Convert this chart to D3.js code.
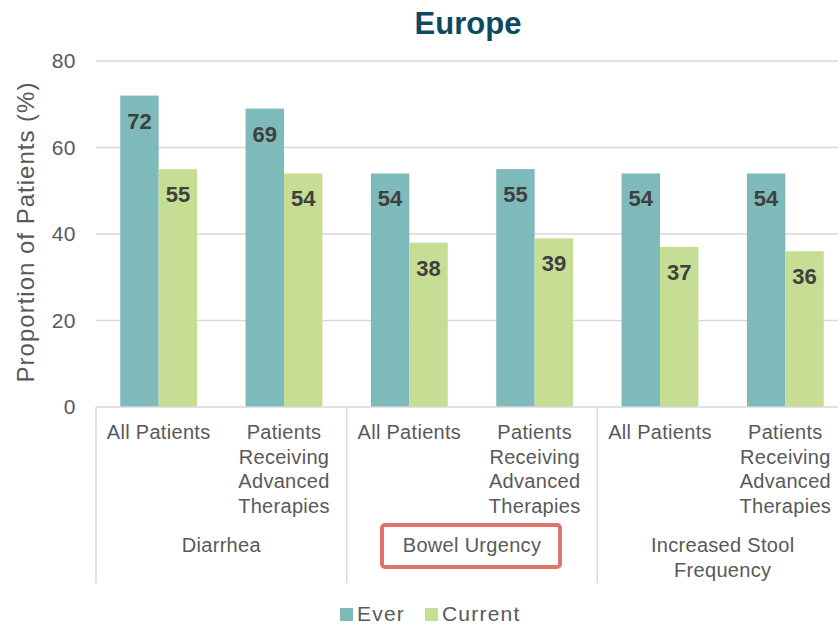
<!DOCTYPE html>
<html>
<head>
<meta charset="utf-8">
<script src="https://cdn.jsdelivr.net/npm/d3@7"></script>
<style>
  body { margin: 0; background: #fff; }
  text { font-family: "Liberation Sans", Arial, sans-serif; }
</style>
</head>
<body>
<div id="chart"></div>
<script>
const width = 838;
const height = 627;

// data
const groups = ["Diarrhea", "Bowel Urgency", "Increased Stool Frequency"];
const groupLines = [["Diarrhea"], ["Bowel Urgency"], ["Increased Stool", "Frequency"]];
const subgroupLines = [["All Patients"], ["Patients", "Receiving", "Advanced", "Therapies"]];
const series = ["Ever", "Current"];
const ever = [72, 69, 54, 55, 54, 54];
const current = [55, 54, 38, 39, 37, 36];
const yTicks = [0, 20, 40, 60, 80];
const highlighted = "Bowel Urgency";

const colours = { Ever: "#7fbaba", Current: "#c6de94" };
const grey = "#595959";

// one slot per (group, subgroup)
const slots = [];
groups.forEach((g, gi) => {
  subgroupLines.forEach((s, si) => {
    slots.push({ id: gi + "-" + si, group: g, gi: gi, lines: s });
  });
});
slots.forEach((s, i) => {
  s.Ever = ever[i];
  s.Current = current[i];
});

const margin = { top: 61, bottom: 407, left: 96, right: 848 };

const svg = d3
  .select("#chart")
  .append("svg")
  .attr("width", width)
  .attr("height", height);

const y = d3.scaleLinear().domain([0, 80]).range([margin.bottom, margin.top]);

const x0 = d3
  .scaleBand()
  .domain(slots.map((d) => d.id))
  .range([margin.left, margin.right]);

const x1 = d3
  .scaleBand()
  .domain(series)
  .range([0, x0.bandwidth()])
  .paddingOuter(0.63);

const xGroup = d3
  .scaleBand()
  .domain(groups)
  .range([margin.left, margin.right]);

// gridlines
svg
  .append("g")
  .selectAll("line")
  .data(yTicks.filter((t) => t > 0))
  .enter()
  .append("line")
  .attr("x1", margin.left)
  .attr("x2", margin.right)
  .attr("y1", (d) => y(d))
  .attr("y2", (d) => y(d))
  .attr("stroke", "#d9d9d9")
  .attr("stroke-width", 1.5);

// y tick labels
svg
  .append("g")
  .selectAll("text")
  .data(yTicks)
  .enter()
  .append("text")
  .attr("x", 76)
  .attr("y", (d) => y(d) + 7)
  .attr("text-anchor", "end")
  .attr("font-size", 21)
  .attr("letter-spacing", 0.5)
  .attr("fill", grey)
  .text((d) => d);

// y axis title
svg
  .append("text")
  .attr("transform", "translate(34," + 232 + ") rotate(-90)")
  .attr("text-anchor", "middle")
  .attr("font-size", 24)
  .attr("letter-spacing", 1)
  .attr("fill", grey)
  .text("Proportion of Patients (%)");

// bars
const slotG = svg
  .append("g")
  .selectAll("g")
  .data(slots)
  .enter()
  .append("g")
  .attr("transform", (d) => "translate(" + x0(d.id) + ",0)");

slotG
  .selectAll("rect")
  .data((d) => series.map((k) => ({ key: k, value: d[k] })))
  .enter()
  .append("rect")
  .attr("x", (d) => x1(d.key))
  .attr("y", (d) => y(d.value))
  .attr("width", x1.bandwidth())
  .attr("height", (d) => y(0) - y(d.value))
  .attr("fill", (d) => colours[d.key]);

slotG
  .selectAll("text")
  .data((d) => series.map((k) => ({ key: k, value: d[k] })))
  .enter()
  .append("text")
  .attr("x", (d) => x1(d.key) + x1.bandwidth() / 2)
  .attr("y", (d) => y(d.value) + 33)
  .attr("text-anchor", "middle")
  .attr("font-size", 22)
  .attr("font-weight", "bold")
  .attr("fill", "#404040")
  .text((d) => d.value);

// x axis baseline and group separators
svg
  .append("line")
  .attr("x1", margin.left)
  .attr("x2", margin.right)
  .attr("y1", y(0))
  .attr("y2", y(0))
  .attr("stroke", "#d9d9d9")
  .attr("stroke-width", 1.5);

svg
  .append("g")
  .selectAll("line")
  .data(groups)
  .enter()
  .append("line")
  .attr("x1", (d) => xGroup(d))
  .attr("x2", (d) => xGroup(d))
  .attr("y1", y(0))
  .attr("y2", 583)
  .attr("stroke", "#d9d9d9")
  .attr("stroke-width", 1.5);

// subgroup labels
slotG
  .append("text")
  .attr("text-anchor", "middle")
  .attr("font-size", 20)
  .attr("letter-spacing", 0.3)
  .attr("fill", grey)
  .each(function (d) {
    d3.select(this)
      .selectAll("tspan")
      .data(d.lines)
      .enter()
      .append("tspan")
      .attr("x", x0.bandwidth() / 2)
      .attr("y", (l, i) => 439 + i * 24.7)
      .text((l) => l);
  });

// group labels
svg
  .append("g")
  .selectAll("text")
  .data(groups)
  .enter()
  .append("text")
  .attr("text-anchor", "middle")
  .attr("font-size", 20)
  .attr("letter-spacing", 0.3)
  .attr("fill", grey)
  .each(function (d, gi) {
    d3.select(this)
      .selectAll("tspan")
      .data(groupLines[gi])
      .enter()
      .append("tspan")
      .attr("x", xGroup(d) + xGroup.bandwidth() / 2)
      .attr("y", (l, i) => 552 + i * 24.7)
      .text((l) => l);
  });

// highlight box
const hx = xGroup(highlighted) + xGroup.bandwidth() / 2;
svg
  .append("rect")
  .attr("x", hx - 90)
  .attr("y", 525)
  .attr("width", 178)
  .attr("height", 42)
  .attr("rx", 3)
  .attr("fill", "none")
  .attr("stroke", "#e0736a")
  .attr("stroke-width", 4);

// title
svg
  .append("text")
  .attr("x", 468)
  .attr("y", 34)
  .attr("text-anchor", "middle")
  .attr("font-size", 31)
  .attr("font-weight", "bold")
  .attr("fill", "#0e4a5f")
  .text("Europe");

// legend
const legendX = [340, 425];
const legend = svg
  .append("g")
  .selectAll("g")
  .data(series)
  .enter()
  .append("g")
  .attr("transform", (d, i) => "translate(" + legendX[i] + ",608)");

legend
  .append("rect")
  .attr("width", 13)
  .attr("height", 13)
  .attr("fill", (d) => colours[d]);

legend
  .append("text")
  .attr("x", 17)
  .attr("y", 13)
  .attr("font-size", 21)
  .attr("letter-spacing", 1.2)
  .attr("fill", grey)
  .text((d) => d);
</script>
</body>
</html>
